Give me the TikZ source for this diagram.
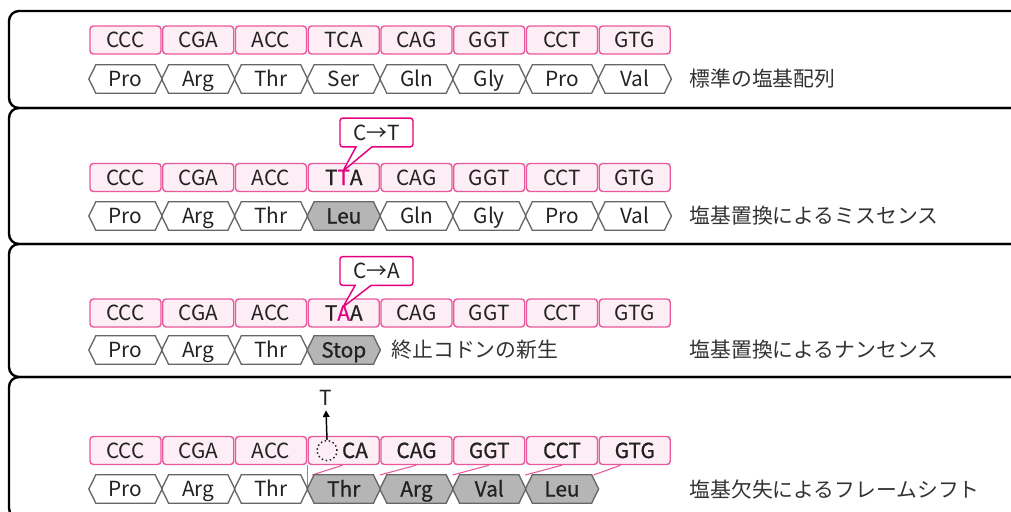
\documentclass[tikz,border=0pt]{standalone}
\usepackage{fontspec}
\setmainfont{Noto Sans CJK JP}
\newfontfamily\semibold[FakeBold=0.8]{Noto Sans CJK JP}
\usetikzlibrary{shapes.callouts,arrows.meta,calc,positioning,backgrounds}
\definecolor{codonpink}{HTML}{E8589B}
\definecolor{codonfill}{HTML}{FDEEF5}
\definecolor{mutpink}{HTML}{E4007F}
\definecolor{hexgray}{HTML}{B5B5B5}
\definecolor{hexline}{HTML}{666666}
\definecolor{textdark}{HTML}{222222}
\definecolor{textgray}{HTML}{333333}
\begin{document}
\begin{tikzpicture}[x=0.75pt,y=-0.75pt,
  every node/.style={font=\fontsize{15.6}{18}\selectfont, text=textdark},
  even/.style={text height=12pt, text depth=0.7pt},
  codon/.style={even, draw=codonpink, fill=codonfill, line width=1.1pt, rounded corners=2.5pt,
    minimum width=53.25pt, minimum height=21pt, inner sep=0pt},
  amino/.style={even, minimum width=54.56pt, minimum height=21pt, inner sep=0pt},
  changed/.style={amino, font=\fontsize{15.6}{18}\selectfont\semibold},
  rim/.style={draw=hexline, line width=1pt, line join=miter},
  note/.style={anchor=west, text=textgray},
  panel/.style={line width=1.8pt, rounded corners=7.5pt},
  mut/.style={even, rectangle callout, draw=mutpink, fill=white, line width=1.1pt, rounded corners=2pt,
    minimum width=54.75pt, minimum height=21.5pt, callout pointer width=12pt, inner sep=0pt},
  frame/.style={draw=codonpink, line width=0.8pt}]
  \useasboundingbox (0,0) rectangle (1011,511);

  % panels
  \draw[panel] (1030,11) -- (9,11) -- (9,108) -- (1030,108);
  \draw[panel] (1030,108) -- (9,108) -- (9,244) -- (1030,244);
  \draw[panel] (1030,244) -- (9,244) -- (9,377) -- (1030,377);
  \draw[panel] (1030,377) -- (9,377) -- (9,518) -- (1030,518);

  % standard sequence
  \foreach \i/\t in {1/CCC,2/CGA,3/ACC,4/TCA,5/CAG,6/GGT,7/CCT,8/GTG}
    \node[codon] (r1c\i) at ({125.5+72.75*(\i-1)},40) {\t};
  \foreach \i/\t in {1/Pro,2/Arg,3/Thr,4/Ser,5/Gln,6/Gly,7/Pro,8/Val}
    \node[amino] (r1h\i) at ({125.5+72.75*(\i-1)},79) {\t};
  \node[note] (l1) at (685,79) {標準の塩基配列};

  % missense
  \foreach \i/\t in {1/CCC,2/CGA,3/ACC,4/{\semibold T\textcolor{mutpink}{T}A},5/CAG,6/GGT,7/CCT,8/GTG}
    \node[codon] (r2c\i) at ({125.5+72.75*(\i-1)},177.5) {\t};
  \foreach \i/\t/\s in {1/Pro/amino,2/Arg/amino,3/Thr/amino,4/Leu/changed,5/Gln/amino,6/Gly/amino,7/Pro/amino,8/Val/amino}
    \node[\s] (r2h\i) at ({125.5+72.75*(\i-1)},216) {\t};
  \node[mut, callout absolute pointer={(343,171)}] (m2) at (376.5,132.5) {C→T};
  \node[note] (l2) at (685,216) {塩基置換によるミスセンス};

  % nonsense
  \foreach \i/\t in {1/CCC,2/CGA,3/ACC,4/{\semibold T\textcolor{mutpink}{A}A},5/CAG,6/GGT,7/CCT,8/GTG}
    \node[codon] (r3c\i) at ({125.5+72.75*(\i-1)},313) {\t};
  \foreach \i/\t/\s in {1/Pro/amino,2/Arg/amino,3/Thr/amino,4/Stop/changed}
    \node[\s] (r3h\i) at ({125.5+72.75*(\i-1)},350) {\t};
  \node[mut, callout absolute pointer={(343,307)}] (m3) at (376.5,271) {C→A};
  \node[note] (s3) at (387,350) {終止コドンの新生};
  \node[note] (l3) at (685,350) {塩基置換によるナンセンス};

  % frameshift
  \foreach \i/\t in {1/CCC,2/CGA,3/ACC,4/{},5/\semibold CAG,6/\semibold GGT,7/\semibold CCT,8/\semibold GTG}
    \node[codon] (r4c\i) at ({125.5+72.75*(\i-1)},450.5) {\t};
  \node[circle, draw=textdark, dotted, line width=1.1pt, minimum size=15pt, inner sep=0pt] (gap) at (327,450.5) {};
  \node[even, font=\fontsize{15.6}{18}\selectfont\semibold] (rest) at (355,450.5) {CA};
  \node (ins) at (326,398) {T};
  \draw[line width=1.1pt, -{Triangle[length=5pt,width=5pt]}] (gap.north) -- (ins.south);
  \foreach \i/\t/\s in {1/Pro/amino,2/Arg/amino,3/Thr/amino,4/Thr/changed,5/Arg/changed,6/Val/changed,7/Leu/changed}
    \node[\s] (r4h\i) at ({125.5+72.75*(\i-1)},489) {\t};
  \draw[frame] (r4c4.south west) -- (r4c4.south west |- r4h4.west);
  \draw[frame] ($(r4c4.south west)+(35,0)$) -- ($(r4h4.west)+(5,-14)$);
  \foreach \i in {5,6,7}
    \draw[frame] ($(r4c\i.south west)+(36,0)$) -- ($(r4h\i.west)+(0,-14)$);
  \draw[frame] ($(r4c8.south west)+(22,0)$) -- ($(r4h7.east)+(-5,-14)$);
  \node[note] (l4) at (685,490) {塩基欠失によるフレームシフト};

  % amino acid hexagons
  \begin{scope}[on background layer]
    \foreach \n in {r2h4,r3h4,r4h4,r4h5,r4h6,r4h7}
      \fill[hexgray] (\n.west) -- ($(\n.north west)+(7,0)$) -- ($(\n.north east)+(-7,0)$) -- (\n.east)
        -- ($(\n.south east)+(-7,0)$) -- ($(\n.south west)+(7,0)$) -- cycle;
  \end{scope}
  \foreach \row/\m in {1/8,2/8,3/4,4/7}
    \foreach \i in {1,...,\m}
      \draw[rim] (r\row h\i.west) -- ($(r\row h\i.north west)+(7,0)$) -- ($(r\row h\i.north east)+(-7,0)$)
        -- (r\row h\i.east) -- ($(r\row h\i.south east)+(-7,0)$) -- ($(r\row h\i.south west)+(7,0)$) -- cycle;
\end{tikzpicture}
\end{document}
